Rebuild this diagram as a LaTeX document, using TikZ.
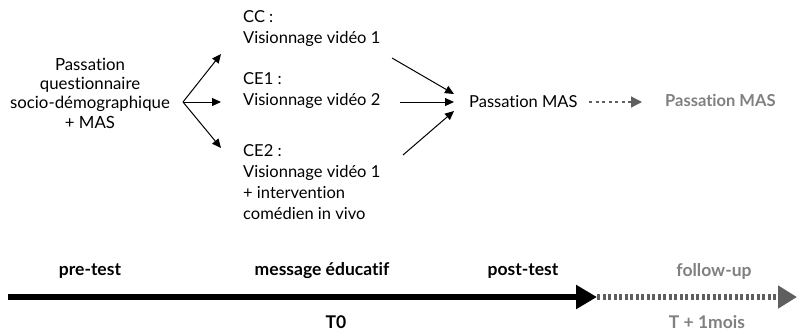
\documentclass[tikz,border=0pt]{standalone}
\usepackage{fontspec}
\setmainfont{Lato}[Ligatures={NoCommon}]
\usetikzlibrary{arrows.meta}
\definecolor{lgray}{HTML}{808080}
\definecolor{dgray}{HTML}{5F5F5F}
\begin{document}
\begin{tikzpicture}[x=1pt,y=-1pt,
  txt/.style={inner sep=0pt,font=\fontsize{16.5}{21}\selectfont},
  lbl/.style={inner sep=0pt,font=\fontsize{17.5}{18}\selectfont\bfseries},
  arr/.style={-{Triangle[length=9pt,width=8pt]},line width=1pt},
]
\useasboundingbox (0,0) rectangle (797,333);
\node[txt,align=center,font=\fontsize{16.8}{19.3}\selectfont] (pre) at (90,93) {Passation\\questionnaire\\socio-démographique\\+ MAS};
\coordinate (fork) at (183,102);
\node[txt,align=left,anchor=west] (cc) at (243,29) {CC :\\Visionnage vidéo 1};
\node[txt,align=left,anchor=west] (ce1) at (243,91) {CE1 :\\Visionnage vidéo 2};
\node[txt,align=left,anchor=west] (ce2) at (243,182) {CE2 :\\Visionnage vidéo 1\\+ intervention\\comédien in vivo};
\coordinate (a1) at (221,54);
\coordinate (a2) at (221,102);
\coordinate (a3) at (221,148);
\draw[arr] (fork) -- (a1);
\draw[arr] (fork) -- (a2);
\draw[arr] (fork) -- (a3);
\node[txt,anchor=west] (mas) at (469,102) {Passation MAS};
\coordinate (b1) at (392,58);
\coordinate (b2) at (400,102);
\coordinate (b3) at (403,155);
\coordinate (m1) at (454,94);
\coordinate (m2) at (454,102);
\coordinate (m3) at (454,111);
\draw[arr] (b1) -- (m1);
\draw[arr] (b2) -- (m2);
\draw[arr] (b3) -- (m3);
\node[txt,anchor=west,text=lgray,font=\fontsize{16.5}{17}\selectfont\bfseries] (mas2) at (665,100) {Passation MAS};
\coordinate (d1) at (589,102);
\coordinate (d2) at (642,102);
\draw[dgray,line width=1.3pt,dash pattern=on 3pt off 3.5pt,-{Triangle[length=11pt,width=11pt]}] (d1) -- (d2);
% timeline
\coordinate (t0) at (8,297);
\coordinate (t1) at (597,297);
\coordinate (t2) at (797,297);
\draw[line width=6pt,-{Triangle[length=21pt,width=23pt]}] (t0) -- (t1);
\draw[dgray,line width=6pt,dash pattern=on 3pt off 2.5pt,-{Triangle[length=19pt,width=22pt]}] (t1) -- (t2);
\node[lbl] (l1) at (90,271) {pre-test};
\node[lbl] (l2) at (322,271) {message éducatif};
\node[lbl] (l3) at (523,271) {post-test};
\node[lbl,text=lgray] (l4) at (714,271) {follow-up};
\node[lbl] (l5) at (336,322) {T0};
\node[lbl,text=lgray] (l6) at (707,322) {T + 1mois};
\end{tikzpicture}
\end{document}
